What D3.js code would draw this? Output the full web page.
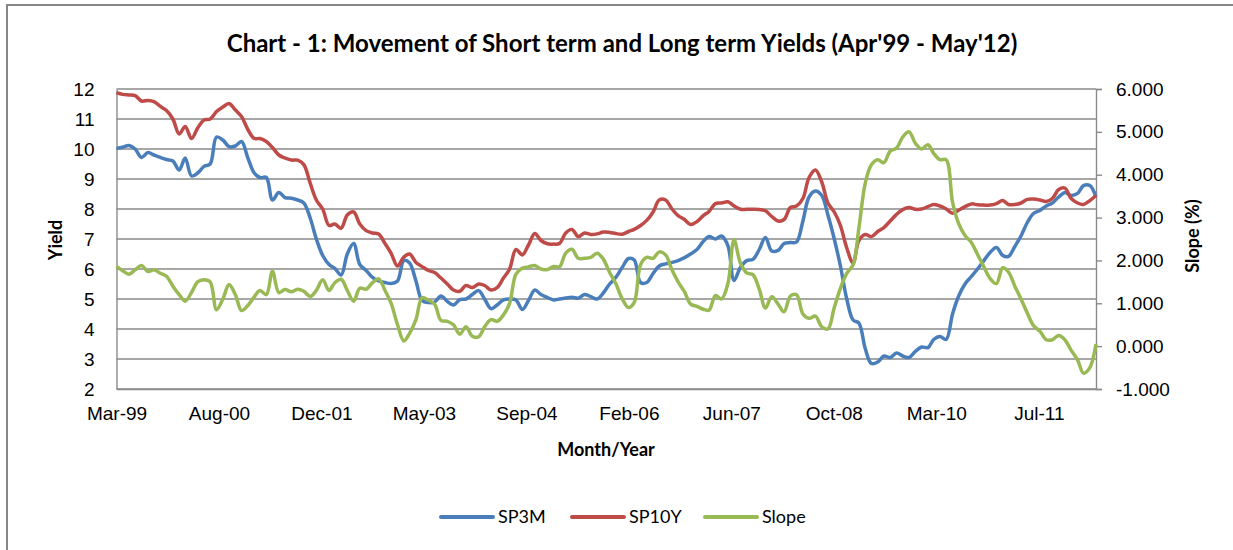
<!DOCTYPE html>
<html>
<head>
<meta charset="utf-8">
<script src="https://cdn.jsdelivr.net/npm/d3@7"></script>
<style>
  body { margin: 0; background: #fff; }
  svg { display: block; font-family: Lato, "Open Sans", sans-serif; }
</style>
</head>
<body>
<svg id="chart"></svg>
<script>
// serie mensili, fine mese da Mar-99 a Apr-12 (158 punti)
var startMonth = "1999-03";
var sp3m = [10.02,10.06,10.12,10.0,9.72,9.88,9.8,9.72,9.65,9.6,
  9.3,9.7,9.1,9.2,9.42,9.5,10.4,10.3,10.08,10.1,
  10.25,9.7,9.2,9.05,9.05,8.3,8.55,8.38,8.36,8.3,
  8.2,7.7,7.0,6.45,6.15,6.02,5.8,6.5,6.85,6.15,
  5.95,5.72,5.6,5.55,5.52,5.6,6.28,6.2,5.6,4.95,
  4.88,4.9,5.1,4.92,4.8,4.98,5.0,5.15,5.28,5.0,
  4.68,4.8,4.97,5.0,4.97,4.65,4.95,5.3,5.15,5.05,
  4.97,5.0,5.03,5.06,5.03,5.15,5.08,5.0,5.2,5.5,
  5.72,6.05,6.35,6.3,5.55,5.55,5.85,6.1,6.17,6.22,
  6.28,6.38,6.5,6.65,6.92,7.08,7.0,7.1,6.78,5.62,
  6.05,6.28,6.32,6.65,7.05,6.6,6.62,6.85,6.88,6.9,
  7.6,8.4,8.6,8.45,7.8,7.0,6.1,5.0,4.3,4.2,
  3.35,2.85,2.9,3.1,3.05,3.2,3.1,3.05,3.25,3.4,
  3.38,3.65,3.75,3.65,4.5,5.1,5.5,5.75,6.0,6.28,
  6.55,6.72,6.45,6.42,6.75,7.1,7.55,7.85,7.95,8.1,
  8.2,8.4,8.55,8.45,8.52,8.78,8.78,8.4];
var sp10y = [11.88,11.82,11.8,11.78,11.6,11.62,11.58,11.42,11.28,11.0,
  10.5,10.75,10.35,10.7,10.97,11.0,11.25,11.4,11.52,11.3,
  11.08,10.65,10.35,10.35,10.25,10.05,9.8,9.7,9.63,9.63,
  9.48,8.86,8.3,8.0,7.45,7.5,7.36,7.8,7.9,7.5,
  7.28,7.2,7.17,6.85,6.52,6.1,6.4,6.5,6.22,6.08,
  5.95,5.88,5.7,5.5,5.3,5.26,5.45,5.38,5.5,5.45,
  5.3,5.38,5.7,6.0,6.65,6.47,6.8,7.18,6.95,6.84,
  6.83,6.85,7.2,7.32,7.08,7.2,7.15,7.17,7.23,7.22,
  7.18,7.16,7.25,7.32,7.45,7.62,7.9,8.3,8.3,8.0,
  7.78,7.65,7.48,7.58,7.78,7.92,8.18,8.2,8.24,8.1,
  7.99,7.99,7.99,7.98,7.94,7.75,7.6,7.65,8.05,8.1,
  8.35,9.05,9.3,8.9,8.2,7.9,7.45,6.7,6.2,6.95,
  7.15,7.08,7.25,7.38,7.6,7.82,7.98,8.05,7.99,8.0,
  8.08,8.15,8.1,8.0,7.86,7.96,8.08,8.17,8.14,8.13,
  8.13,8.18,8.28,8.15,8.15,8.2,8.32,8.33,8.3,8.25,
  8.35,8.65,8.7,8.35,8.2,8.15,8.28,8.45];
var slope = [1.86,1.76,1.68,1.78,1.88,1.74,1.78,1.7,1.63,1.4,
  1.2,1.05,1.25,1.5,1.55,1.5,0.85,1.1,1.44,1.2,
  0.83,0.95,1.15,1.3,1.2,1.75,1.25,1.32,1.27,1.33,
  1.28,1.16,1.3,1.55,1.3,1.48,1.56,1.3,1.05,1.35,
  1.33,1.48,1.57,1.3,1.0,0.5,0.12,0.3,0.62,1.13,
  1.07,0.98,0.6,0.58,0.5,0.28,0.45,0.23,0.22,0.45,
  0.62,0.58,0.73,1.0,1.68,1.82,1.85,1.88,1.8,1.79,
  1.86,1.85,2.17,2.26,2.05,2.05,2.07,2.17,2.03,1.72,
  1.46,1.11,0.9,1.02,1.9,2.07,2.05,2.2,2.13,1.78,
  1.5,1.27,0.98,0.93,0.86,0.84,1.18,1.1,1.46,2.48,
  1.94,1.71,1.67,1.33,0.89,1.15,0.98,0.8,1.17,1.2,
  0.75,0.65,0.7,0.45,0.4,0.9,1.35,1.7,1.9,2.75,
  3.8,4.23,4.35,4.28,4.55,4.62,4.88,5.0,4.74,4.6,
  4.7,4.5,4.35,4.35,3.36,2.86,2.58,2.42,2.14,1.85,
  1.58,1.46,1.83,1.73,1.4,1.1,0.77,0.48,0.35,0.15,
  0.15,0.25,0.15,-0.1,-0.32,-0.63,-0.5,0.05];

var yieldTicks = [2,3,4,5,6,7,8,9,10,11,12];
var slopeTicks = [-1,0,1,2,3,4,5,6];
var tickDates = ["1999-03-31","2000-08-12","2001-12-25","2003-05-09","2004-09-20",
  "2006-02-02","2007-06-17","2008-10-29","2010-03-13","2011-07-26"];
var tickLabels = ["Mar-99","Aug-00","Dec-01","May-03","Sep-04","Feb-06","Jun-07","Oct-08","Mar-10","Jul-11"];
var seriesNames = ["SP3M","SP10Y","Slope"];
var colors = ["#4a7ebb","#be4b48","#98b954"];

var width = 1233, height = 550;
var plotLeft = 116.5, plotRight = 1096, plotTop = 89, plotBottom = 389;

var svg = d3.select("#chart").attr("width", width).attr("height", height);

// bordo esterno del grafico
svg.append("rect").attr("x", 7).attr("y", 5).attr("width", 1240).attr("height", 560)
  .attr("fill", "none").attr("stroke", "#868686").attr("stroke-width", 2);

var parse = d3.timeParse("%Y-%m-%d");
var first = d3.timeMonth.offset(d3.timeParse("%Y-%m")(startMonth), 1);
var dates = [];
for (var i = 0; i < sp3m.length; i++) {
  dates.push(d3.timeDay.offset(d3.timeMonth.offset(first, i), -1));
}

var x = d3.scaleTime().domain([dates[0], dates[dates.length - 1]]).range([plotLeft, plotRight]);
var yL = d3.scaleLinear().domain([2, 12]).range([plotBottom, plotTop]);
var yR = d3.scaleLinear().domain([-1, 6]).range([plotBottom, plotTop]);

// griglia
svg.append("g").selectAll("line").data(yieldTicks).enter().append("line")
  .attr("x1", plotLeft).attr("x2", plotRight)
  .attr("y1", function(d) { return yL(d); }).attr("y2", function(d) { return yL(d); })
  .attr("stroke", "#8a8a8a").attr("stroke-width", 1.4);

// asse sinistro
var axL = svg.append("g").attr("transform", "translate(" + plotLeft + ",0)")
  .call(d3.axisLeft(yL).tickValues(yieldTicks).tickSize(0).tickPadding(22));
axL.select(".domain").attr("stroke", "#8a8a8a").attr("stroke-width", 1.4);
axL.selectAll("text").attr("font-size", 19).attr("fill", "#000");

// asse destro (trattino normale come in Excel)
var fmt3 = d3.format(".3f");
var axR = svg.append("g").attr("transform", "translate(" + plotRight + ",0)")
  .call(d3.axisRight(yR).tickValues(slopeTicks).tickSize(6).tickPadding(14)
    .tickFormat(function(d) { return fmt3(d).replace("\u2212", "-"); }));
axR.select(".domain").attr("stroke", "#8a8a8a").attr("stroke-width", 1.4);
axR.selectAll("line").attr("stroke", "#8a8a8a").attr("stroke-width", 1.4);
axR.selectAll("text").attr("font-size", 19).attr("fill", "#000");

// asse x
var axX = svg.append("g").attr("transform", "translate(0," + plotBottom + ")")
  .call(d3.axisBottom(x).tickValues(tickDates.map(parse)).tickSize(0).tickPadding(18)
    .tickFormat(function(d, i) { return tickLabels[i]; }));
axX.select(".domain").attr("stroke", "#8a8a8a").attr("stroke-width", 1.4);
axX.selectAll("text").attr("font-size", 19).attr("fill", "#000");

// linee
var lineL = d3.line().curve(d3.curveCatmullRom.alpha(0.5))
  .x(function(d, i) { return x(dates[i]); }).y(function(d) { return yL(d); });
var lineR = d3.line().curve(d3.curveCatmullRom.alpha(0.5))
  .x(function(d, i) { return x(dates[i]); }).y(function(d) { return yR(d); });

svg.append("path").datum(sp3m).attr("d", lineL).attr("fill", "none")
  .attr("stroke", colors[0]).attr("stroke-width", 3.5).attr("stroke-linejoin", "round");
svg.append("path").datum(sp10y).attr("d", lineL).attr("fill", "none")
  .attr("stroke", colors[1]).attr("stroke-width", 3.5).attr("stroke-linejoin", "round");
svg.append("path").datum(slope).attr("d", lineR).attr("fill", "none")
  .attr("stroke", colors[2]).attr("stroke-width", 3.5).attr("stroke-linejoin", "round");

// titoli
svg.append("text").attr("x", 622).attr("y", 52).attr("text-anchor", "middle")
  .attr("font-size", 24).attr("font-weight", "bold")
  .text("Chart - 1: Movement of Short term and Long term Yields (Apr'99 - May'12)");
svg.append("text").attr("transform", "translate(62,240) rotate(-90)")
  .attr("text-anchor", "middle").attr("font-size", 18).attr("font-weight", "bold").text("Yield");
svg.append("text").attr("transform", "translate(1199,236) rotate(-90)")
  .attr("text-anchor", "middle").attr("font-size", 18).attr("font-weight", "bold").text("Slope (%)");
svg.append("text").attr("x", 606).attr("y", 456).attr("text-anchor", "middle")
  .attr("font-size", 18).attr("font-weight", "bold").text("Month/Year");

// legenda
var legX = [441, 572, 705];
var leg = svg.append("g").selectAll("g").data(seriesNames).enter().append("g")
  .attr("transform", function(d, i) { return "translate(" + legX[i] + ",517)"; });
leg.append("line").attr("x1", 0).attr("x2", 52).attr("y1", 0).attr("y2", 0)
  .attr("stroke", function(d, i) { return colors[i]; }).attr("stroke-width", 4)
  .attr("stroke-linecap", "round");
leg.append("text").attr("x", 57).attr("y", 6).attr("font-size", 18).text(function(d) { return d; });
</script>
</body>
</html>
